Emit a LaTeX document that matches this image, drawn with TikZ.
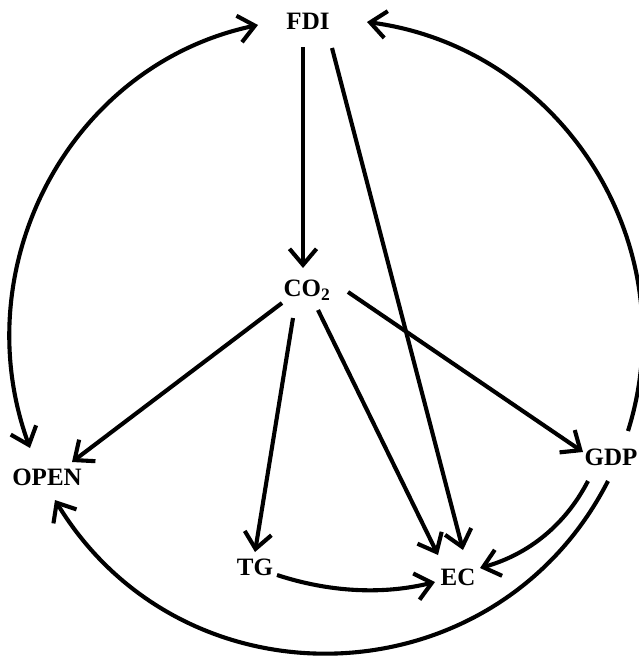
\documentclass[tikz,border=0pt]{standalone}
\usepackage{fontspec}
\setmainfont{Liberation Serif}
\usetikzlibrary{arrows.meta}
\tikzset{barb/.tip={Straight Barb[length=16pt,width=27pt]}}
\begin{document}
\begin{tikzpicture}[x=1pt,y=-1pt,
  var/.style={font=\fontsize{25}{29}\selectfont\bfseries, inner sep=0pt, text=black},
  link/.style={line width=4.1pt, -barb},
  dlink/.style={line width=4.1pt, barb-barb},
]
\useasboundingbox (0,0) rectangle (639,656);

% variables
\node[var] (FDI)  at (308,21)  {FDI};
\node[var] (CO2)  at (307,290) {CO\textsubscript{\smash{2}}};
\node[var] (OPEN) at (47,477)  {OPEN};
\node[var] (GDP)  at (611,457) {GDP};
\node[var] (TG)   at (255,567) {TG};
\node[var] (EC)   at (458,577) {EC};

% straight causal links
\draw[link] ([shift={(-5,26)}]FDI.center)  -- ([shift={(-4,-22)}]CO2.center);
\draw[link] ([shift={(24,27)}]FDI.center)  -- ([shift={(5,-27)}]EC.center);
\draw[link] ([shift={(-25,13)}]CO2.center) -- ([shift={(25,-15)}]OPEN.center);
\draw[link] ([shift={(-14,28)}]CO2.center) -- ([shift={(0,-15)}]TG.center);
\draw[link] ([shift={(11,20)}]CO2.center)  -- ([shift={(-20,-22)}]EC.center);
\draw[link] ([shift={(41,2)}]CO2.center)   -- ([shift={(-28,-5)}]GDP.center);

% curved links into EC
\draw[link] ([shift={(22,8)}]TG.center) .. controls +(52,17) and +(-53,13) .. ([shift={(-23,5)}]EC.center);
\draw[link] ([shift={(-23,24)}]GDP.center) .. controls +(-23,44.5) and +(48,-13.5) .. ([shift={(22,-9)}]EC.center);

% outer ring
\draw[dlink] ([shift={(-50,4)}]FDI.center) .. controls +(-189,40) and +(-66,-181) .. ([shift={(-17,-29)}]OPEN.center);
\draw[link] ([shift={(17,-26)}]GDP.center) .. controls +(59,-188) and +(194,26) .. ([shift={(59,1)}]FDI.center);
\draw[link] ([shift={(-3,24)}]GDP.center) .. controls +(-113,221) and +(129,212) .. ([shift={(8,23)}]OPEN.center);
\end{tikzpicture}
\end{document}
